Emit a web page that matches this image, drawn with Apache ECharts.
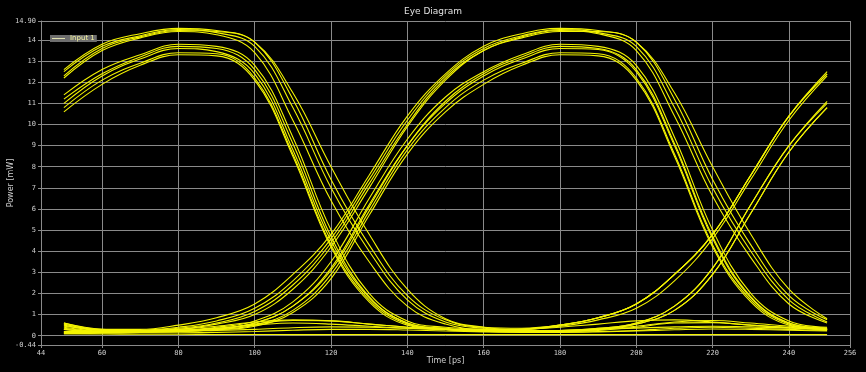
<!DOCTYPE html>
<html>
<head>
<meta charset="utf-8">
<script src="https://cdn.jsdelivr.net/npm/echarts@6/dist/echarts.min.js"></script>
<style>html,body{margin:0;padding:0;background:#000;}#c{width:866px;height:372px;}</style>
</head>
<body>
<div id="c"></div>
<script>
// sample times [ps]
const times = [50, 60, 70, 80, 90, 100, 110, 120, 130, 140, 150, 160, 170, 180, 190, 200, 210, 220, 230, 240, 250];

// traces [mW]
const t01 = [12.6, 13.8, 14.3, 14.55, 14.45, 13.9, 11.2, 7.4, 4.3, 1.9, 0.75, 0.4, 0.35, 0.5, 0.85, 1.5, 2.9, 4.8, 7.6, 10.4, 12.5];
const t02 = [12.5, 13.7, 14.2, 14.5, 14.35, 13.7, 10.8, 7.0, 4.0, 1.7, 0.65, 0.35, 0.25, 0.25, 0.35, 0.6, 1.4, 3.2, 6.2, 9.0, 11.1];
const t03 = [12.3, 13.6, 14.15, 14.45, 14.4, 13.9, 11.5, 8.0, 4.8, 2.2, 0.8, 0.4, 0.25, 0.22, 0.3, 0.45, 0.65, 0.72, 0.6, 0.45, 0.35];
const t04 = [12.2, 13.5, 14.1, 14.4, 14.25, 13.4, 10.2, 6.4, 3.5, 1.4, 0.55, 0.3, 0.3, 0.45, 0.75, 1.3, 2.6, 4.6, 7.4, 10.2, 12.3];
const t05 = [11.4, 12.6, 13.3, 13.8, 13.7, 12.8, 9.4, 5.0, 2.0, 0.7, 0.4, 0.3, 0.3, 0.5, 0.85, 1.5, 2.9, 4.8, 7.6, 10.4, 12.4];
const t06 = [11.2, 12.4, 13.2, 13.7, 13.6, 12.6, 9.1, 4.7, 1.85, 0.6, 0.35, 0.25, 0.2, 0.25, 0.35, 0.6, 1.4, 3.2, 6.2, 9.0, 11.0];
const t07 = [11.0, 12.3, 13.1, 13.6, 13.45, 12.4, 8.8, 4.5, 1.8, 0.6, 0.32, 0.22, 0.2, 0.2, 0.25, 0.4, 0.6, 0.62, 0.5, 0.4, 0.3];
const t08 = [10.8, 12.1, 12.9, 13.4, 13.35, 12.2, 8.6, 4.3, 1.7, 0.55, 0.3, 0.22, 0.2, 0.22, 0.3, 0.55, 1.2, 2.9, 5.8, 8.7, 10.8];
const t09 = [10.6, 11.9, 12.8, 13.3, 13.25, 12.1, 8.5, 4.2, 1.6, 0.5, 0.3, 0.2, 0.18, 0.18, 0.2, 0.25, 0.35, 0.4, 0.35, 0.3, 0.25];
const t10 = [0.6, 0.3, 0.3, 0.5, 0.85, 1.5, 2.9, 4.8, 7.6, 10.4, 12.4, 13.7, 14.3, 14.55, 14.45, 13.9, 11.2, 7.4, 4.3, 1.9, 0.75];
const t11 = [0.15, 0.2, 0.25, 0.4, 0.7, 1.3, 2.6, 4.6, 7.4, 10.2, 12.3, 13.6, 14.2, 14.5, 14.35, 13.7, 10.8, 7.0, 4.0, 1.7, 0.65];
const t12 = [0.5, 0.25, 0.25, 0.35, 0.6, 1.15, 2.4, 4.4, 7.2, 10.0, 12.2, 13.5, 14.15, 14.45, 14.3, 13.5, 10.4, 6.6, 3.7, 1.5, 0.6];
const t13 = [0.2, 0.2, 0.22, 0.3, 0.55, 1.0, 2.2, 4.2, 7.0, 9.9, 12.1, 13.5, 14.1, 14.4, 14.4, 13.9, 11.5, 8.0, 4.8, 2.2, 0.8];
const t14 = [0.55, 0.25, 0.2, 0.25, 0.35, 0.6, 1.4, 3.2, 6.2, 9.0, 11.0, 12.3, 13.1, 13.6, 13.55, 12.5, 9.0, 4.6, 1.8, 0.6, 0.35];
const t15 = [0.15, 0.15, 0.18, 0.22, 0.3, 0.5, 1.2, 2.9, 5.9, 8.8, 10.8, 12.1, 12.9, 13.4, 13.35, 12.2, 8.6, 4.3, 1.7, 0.55, 0.3];
const t16 = [0.4, 0.22, 0.2, 0.25, 0.4, 0.7, 1.6, 3.5, 6.5, 9.3, 11.3, 12.5, 13.3, 13.8, 13.7, 12.8, 9.4, 5.0, 2.0, 0.7, 0.4];
const t17 = [0.1, 0.12, 0.15, 0.2, 0.28, 0.45, 1.1, 2.7, 5.7, 8.6, 10.6, 11.9, 12.8, 13.3, 13.25, 12.1, 8.5, 4.2, 1.6, 0.5, 0.3];
const t18 = [0.3, 0.2, 0.2, 0.25, 0.35, 0.6, 1.4, 3.1, 6.1, 9.0, 11.1, 12.4, 13.2, 13.7, 13.6, 12.6, 9.1, 4.7, 1.85, 0.6, 0.35];
const t19 = [0.6, 0.3, 0.25, 0.3, 0.45, 0.65, 0.75, 0.7, 0.55, 0.4, 0.3, 0.25, 0.3, 0.5, 0.85, 1.5, 2.9, 4.8, 7.6, 10.4, 12.4];
const t20 = [0.2, 0.18, 0.2, 0.25, 0.35, 0.5, 0.6, 0.55, 0.45, 0.35, 0.28, 0.22, 0.2, 0.22, 0.3, 0.55, 1.2, 2.9, 5.8, 8.7, 10.8];
const t21 = [0.35, 0.2, 0.18, 0.2, 0.3, 0.55, 0.72, 0.7, 0.55, 0.4, 0.3, 0.25, 0.3, 0.4, 0.55, 0.7, 0.75, 0.65, 0.5, 0.38, 0.3];
const t22 = [0.1, 0.08, 0.07, 0.07, 0.06, 0.06, 0.05, 0.05, 0.05, 0.05, 0.05, 0.05, 0.05, 0.05, 0.05, 0.05, 0.05, 0.05, 0.05, 0.05, 0.05];
const t23 = [0.45, 0.28, 0.22, 0.22, 0.25, 0.3, 0.38, 0.42, 0.4, 0.35, 0.3, 0.26, 0.24, 0.25, 0.3, 0.36, 0.42, 0.45, 0.42, 0.36, 0.3];
const t24 = [0.3, 0.16, 0.14, 0.14, 0.16, 0.2, 0.26, 0.3, 0.3, 0.27, 0.22, 0.18, 0.16, 0.16, 0.18, 0.22, 0.28, 0.32, 0.3, 0.26, 0.22];

const traces = [t01, t02, t03, t04, t05, t06, t07, t08, t09, t10, t11, t12, t13, t14, t15, t16, t17, t18, t19, t20, t21, t22, t23, t24];

// axis
const xMin = 44, xMax = 256, xStep = 20;
const yMin = -0.44, yMax = 14.9, yStep = 1;
const yEdgeLabels = { min: '-0.44', max: '14.90' };
const seriesName = 'Input 1';

const chart = echarts.init(document.getElementById('c'), null, { renderer: 'canvas' });
const gridColor = '#8a8a8a';
const textColor = '#d0d0d0';
const traceColor = '#f4f400';

const series = traces.map(vals => ({
  name: seriesName,
  type: 'line',
  data: vals.map((v, i) => [times[i], v]),
  smooth: 0.4,
  symbol: 'none',
  showSymbol: false,
  lineStyle: { color: traceColor, width: 1.1 },
  itemStyle: { color: traceColor },
  silent: true,
  z: 3
}));

chart.setOption({
  backgroundColor: '#000000',
  animation: false,
  title: {
    text: 'Eye Diagram',
    left: 'center',
    top: 2,
    textStyle: { color: '#e0e0e0', fontSize: 9, fontWeight: 'normal', fontFamily: 'DejaVu Sans' }
  },
  legend: {
    data: [{ name: seriesName, icon: 'rect' }],
    left: 50,
    top: 35,
    backgroundColor: '#6e6e6e',
    padding: [0, 2],
    itemWidth: 13,
    itemHeight: 1,
    itemGap: 3,
    textStyle: { color: '#f6f6a0', fontSize: 7, fontFamily: 'DejaVu Sans', padding: [1, 0, 0, 0] },
    itemStyle: { color: '#e2e2b0' }
  },
  grid: { left: 41, right: 16, top: 21, bottom: 27, containLabel: false, outerBoundsMode: 'none' },
  xAxis: {
    type: 'value',
    min: xMin,
    max: xMax,
    minInterval: xStep,
    maxInterval: xStep,
    name: 'Time [ps]',
    nameLocation: 'middle',
    nameGap: 12,
    nameMoveOverlap: false,
    nameTextStyle: { color: textColor, fontSize: 8, fontFamily: 'DejaVu Sans', verticalAlign: 'top' },
    axisLine: { onZero: false, lineStyle: { color: gridColor, width: 1 } },
    axisTick: { show: true, length: 3, lineStyle: { color: gridColor } },
    axisLabel: { color: textColor, fontSize: 7, fontFamily: 'DejaVu Sans Mono', margin: 5, showMinLabel: true, showMaxLabel: true },
    splitLine: { show: true, lineStyle: { color: gridColor, width: 1 } }
  },
  yAxis: {
    type: 'value',
    min: yMin,
    max: yMax,
    minInterval: yStep,
    maxInterval: yStep,
    name: 'Power [mW]',
    nameLocation: 'middle',
    nameGap: 26,
    nameMoveOverlap: false,
    nameTextStyle: { color: textColor, fontSize: 8, fontFamily: 'DejaVu Sans' },
    axisLine: { show: true, lineStyle: { color: gridColor, width: 1 } },
    axisTick: { show: true, length: 3, lineStyle: { color: gridColor } },
    axisLabel: {
      color: textColor, fontSize: 7, fontFamily: 'DejaVu Sans Mono', margin: 5,
      showMinLabel: true, showMaxLabel: true,
      formatter: function (v) {
        if (Math.abs(v - yMin) < 1e-6) return yEdgeLabels.min;
        if (Math.abs(v - yMax) < 1e-6) return yEdgeLabels.max;
        return String(Math.round(v));
      }
    },
    splitLine: { show: true, lineStyle: { color: gridColor, width: 1 } }
  },
  series: series
});
</script>
</body>
</html>
